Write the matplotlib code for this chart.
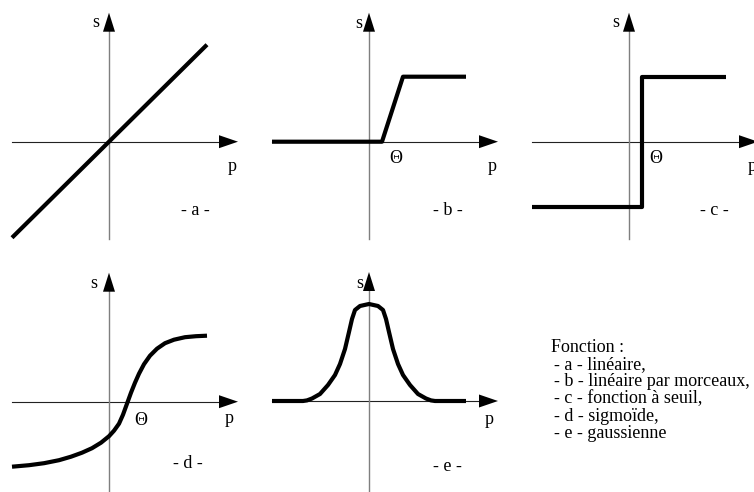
import numpy as np
import matplotlib
matplotlib.use("Agg")
import matplotlib.pyplot as plt
from matplotlib.patches import Polygon

plt.rcParams['font.family'] = ['Liberation Serif', 'DejaVu Serif']

# Figure size in pixels
W, H = 754, 492

# -a- linear
p_a = [-0.97, 0.98]
s_a = [-0.96, 0.97]

# -b- piecewise linear
p_b = [-0.97, 0.13, 0.34, 0.97]
s_b = [0.0, 0.0, 0.65, 0.65]

# -c- threshold
p_c = [-0.97, 0.13, 0.13, 0.97]
s_c = [-0.65, -0.65, 0.65, 0.65]

# -d- sigmoid
p_d = [-0.97, -0.80, -0.65, -0.50, -0.38, -0.27, -0.17, -0.08, 0.0, 0.05, 0.10,
       0.14, 0.18, 0.22, 0.26, 0.30, 0.35, 0.41, 0.48, 0.56, 0.65, 0.76, 0.87, 0.98]
s_d = [-0.65, -0.635, -0.615, -0.585, -0.55, -0.51, -0.465, -0.41, -0.345, -0.29, -0.22,
       -0.13, -0.02, 0.09, 0.19, 0.28, 0.375, 0.46, 0.53, 0.585, 0.62, 0.645, 0.655, 0.66]

# -e- gaussian
p_e = [-0.97, -0.66, -0.62, -0.57, -0.49, -0.41, -0.34, -0.29, -0.24, -0.20, -0.17,
       -0.14, -0.09, 0.0, 0.09, 0.14, 0.17, 0.20, 0.24, 0.29, 0.34, 0.41, 0.49,
       0.57, 0.62, 0.66, 0.97]
s_e = [0.0, 0.0, 0.006, 0.025, 0.07, 0.16, 0.26, 0.37, 0.52, 0.69, 0.82,
       0.91, 0.95, 0.97, 0.95, 0.91, 0.82, 0.69, 0.52, 0.37, 0.26, 0.16, 0.07,
       0.025, 0.006, 0.0, 0.0]

legend_title = "Fonction :"
legend_items = ["- a - linéaire,", "- b - linéaire par morceaux,",
                "- c - fonction à seuil,", "- d - sigmoïde,", "- e - gaussienne"]

# panel: origin in px, curve, and where its labels sit
panels = [
    dict(o=(109, 141.7), p=p_a, s=s_a, name="- a -", name_xy=(0.86, -0.73),
         s_xy=(-0.13, 1.15), p_xy=(1.23, -0.29), theta=None),
    dict(o=(369, 141.7), p=p_b, s=s_b, name="- b -", name_xy=(0.785, -0.73),
         s_xy=(-0.10, 1.14), p_xy=(1.23, -0.29), theta=(0.265, -0.216)),
    dict(o=(629, 141.7), p=p_c, s=s_c, name="- c -", name_xy=(0.85, -0.73),
         s_xy=(-0.13, 1.15), p_xy=(1.23, -0.29), theta=(0.265, -0.216)),
    dict(o=(109, 401.7), p=p_d, s=s_d, name="- d -", name_xy=(0.79, -0.66),
         s_xy=(-0.15, 1.14), p_xy=(1.20, -0.21), theta=(0.32, -0.233)),
    dict(o=(369, 401.0), p=p_e, s=s_e, name="- e -", name_xy=(0.78, -0.70),
         s_xy=(-0.09, 1.13), p_xy=(1.20, -0.235), theta=None),
]

fs = 13
fig = plt.figure(figsize=(W / 100, H / 100), dpi=100)

for pn in panels:
    ox, oy = pn['o']
    ax = fig.add_axes([(ox - 105) / W, 1 - (oy + 110) / H, 255 / W, 245 / H])
    ax.set_xlim(-1.05, 1.50)
    ax.set_ylim(-1.10, 1.35)
    ax.axis('off')

    # axes with arrow heads
    ax.plot([-0.97, 1.12], [0, 0], color='#222222', lw=0.8, zorder=1)
    ax.plot([0, 0], [-0.97, 1.12], color='#7f7f7f', lw=1.0, zorder=1)
    ax.add_patch(Polygon([(1.10, 0.065), (1.29, 0), (1.10, -0.065)],
                         closed=True, color='black', lw=0, zorder=3))
    ax.add_patch(Polygon([(-0.06, 1.10), (0, 1.29), (0.06, 1.10)],
                         closed=True, color='black', lw=0, zorder=3))

    ax.plot(pn['p'], pn['s'], color='black', lw=3.0,
            solid_joinstyle='round', solid_capstyle='butt', zorder=2)

    ax.text(*pn['s_xy'], "s", fontsize=fs, ha='center', va='baseline')
    ax.text(*pn['p_xy'], "p", fontsize=fs, ha='center', va='baseline')
    ax.text(*pn['name_xy'], pn['name'], fontsize=fs, ha='center', va='baseline')
    if pn['theta'] is not None:
        ax.text(*pn['theta'], "Θ", fontsize=fs, ha='center', va='baseline')

# legend block
fig.text(551 / W, 1 - 351.5 / H, legend_title, fontsize=fs, ha='left', va='baseline')
for i, item in enumerate(legend_items):
    fig.text(554 / W, 1 - (369 + 17.2 * i) / H, item, fontsize=fs,
             ha='left', va='baseline')

fig.savefig("out.png", dpi=100)
